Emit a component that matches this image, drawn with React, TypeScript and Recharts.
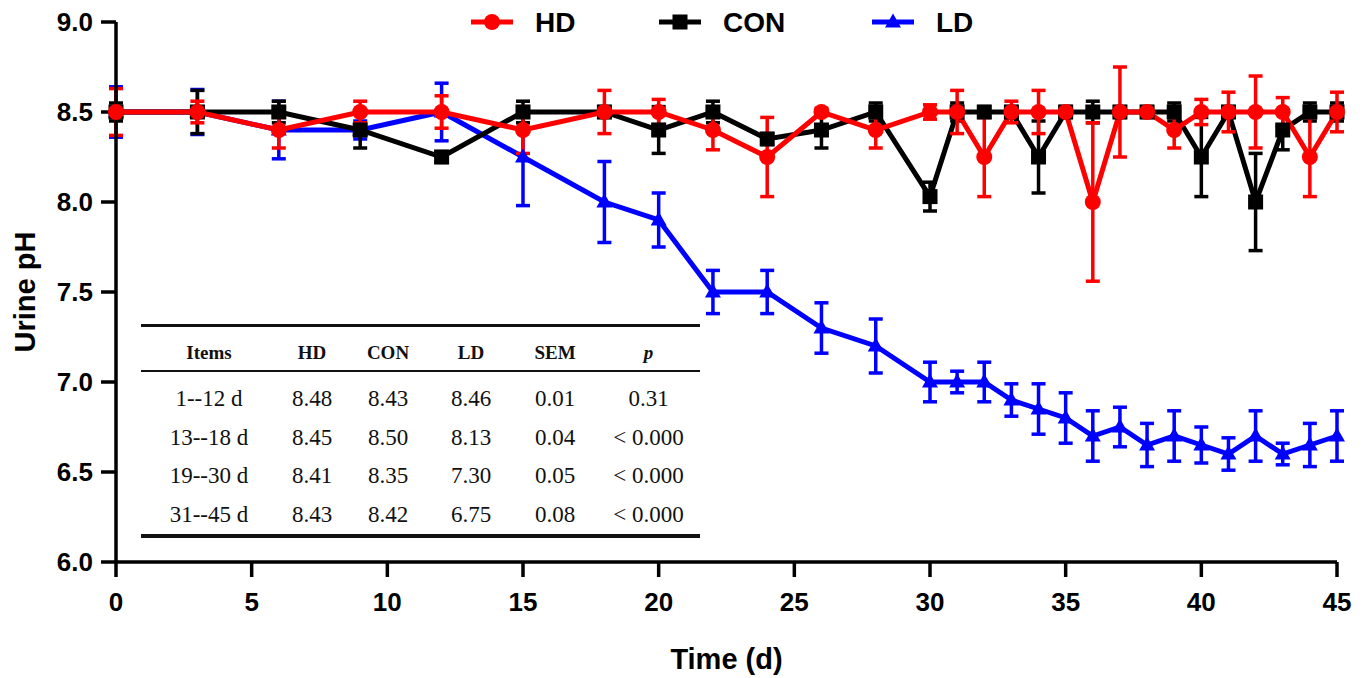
import React from "react";
import { LineChart, Line, XAxis, YAxis, ErrorBar, Legend, Label } from "recharts";

const days = [0, 3, 6, 9, 12, 15, 18, 20, 22, 24, 26, 28, 30, 31, 32, 33, 34, 35, 36, 37, 38, 39, 40, 41, 42, 43, 44, 45];

const hd = [8.5, 8.5, 8.4, 8.5, 8.5, 8.4, 8.5, 8.5, 8.4, 8.25, 8.5, 8.4, 8.5, 8.5, 8.25, 8.5, 8.5, 8.5, 8.0, 8.5, 8.5, 8.4, 8.5, 8.5, 8.5, 8.5, 8.25, 8.5];
const hdErr = [0.13, 0.06, 0.1, 0.06, 0.09, 0.13, 0.12, 0.07, 0.11, 0.22, 0.02, 0.1, 0.04, 0.12, 0.22, 0.06, 0.12, 0.03, 0.44, 0.25, 0.02, 0.1, 0.07, 0.11, 0.2, 0.08, 0.22, 0.11];

const con = [8.5, 8.5, 8.5, 8.4, 8.25, 8.5, 8.5, 8.4, 8.5, 8.35, 8.4, 8.5, 8.03, 8.5, 8.5, 8.5, 8.25, 8.5, 8.5, 8.5, 8.5, 8.5, 8.25, 8.5, 8.0, 8.4, 8.5, 8.5];
const conErr = [0.05, 0.12, 0.06, 0.1, 0.03, 0.06, 0.03, 0.13, 0.06, 0.03, 0.1, 0.05, 0.08, 0.05, 0.03, 0.03, 0.2, 0.03, 0.06, 0.03, 0.03, 0.05, 0.22, 0.03, 0.27, 0.11, 0.05, 0.05];

const ld = [8.5, 8.5, 8.4, 8.4, 8.5, 8.25, 8.0, 7.9, 7.5, 7.5, 7.3, 7.2, 7.0, 7.0, 7.0, 6.9, 6.85, 6.8, 6.7, 6.75, 6.65, 6.7, 6.65, 6.6, 6.7, 6.6, 6.65, 6.7];
const ldErr = [0.14, 0.125, 0.16, 0.05, 0.16, 0.27, 0.225, 0.15, 0.12, 0.12, 0.14, 0.15, 0.11, 0.06, 0.11, 0.09, 0.14, 0.14, 0.14, 0.11, 0.12, 0.14, 0.1, 0.09, 0.14, 0.06, 0.12, 0.14];

const xTicks = [0, 5, 10, 15, 20, 25, 30, 35, 40, 45];
const yTicks = [6.0, 6.5, 7.0, 7.5, 8.0, 8.5, 9.0];

// summary table
const tableHead = ["Items", "HD", "CON", "LD", "SEM", "p"];
const tableItems = ["1--12 d", "13--18 d", "19--30 d", "31--45 d"];
const tableHD = ["8.48", "8.45", "8.41", "8.43"];
const tableCON = ["8.43", "8.50", "8.35", "8.42"];
const tableLD = ["8.46", "8.13", "7.30", "6.75"];
const tableSEM = ["0.01", "0.04", "0.05", "0.08"];
const tableP = ["0.31", "< 0.000", "< 0.000", "< 0.000"];

const RED = "#ff0000";
const BLACK = "#000000";
const BLUE = "#0000ff";
const SANS = '"Liberation Sans", Arial, Helvetica, sans-serif';
const SERIF = '"Liberation Serif", "DejaVu Serif", serif';

const data = days.map((d, i) => ({
  day: d,
  hd: hd[i],
  hdErr: hdErr[i],
  con: con[i],
  conErr: conErr[i],
  ld: ld[i],
  ldErr: ldErr[i],
}));

const circleDot = (props: any) => {
  const { cx, cy, index } = props;
  if (cx == null || cy == null) return null;
  return <circle key={`hd-${index}`} cx={cx} cy={cy} r={8} fill={RED} />;
};

const squareDot = (props: any) => {
  const { cx, cy, index } = props;
  if (cx == null || cy == null) return null;
  return <rect key={`con-${index}`} x={cx - 7.5} y={cy - 7.5} width={15} height={15} fill={BLACK} />;
};

const triangleDot = (props: any) => {
  const { cx, cy, index } = props;
  if (cx == null || cy == null) return null;
  return (
    <path
      key={`ld-${index}`}
      d={`M${cx},${cy - 8.5} L${cx + 8},${cy + 5.5} L${cx - 8},${cy + 5.5} Z`}
      fill={BLUE}
    />
  );
};

const legendItems = [
  { name: "HD", color: RED, shape: "circle", x: 471 },
  { name: "CON", color: BLACK, shape: "square", x: 659 },
  { name: "LD", color: BLUE, shape: "triangle", x: 872 },
];

const renderLegend = () => (
  <svg width={1370} height={44}>
    {legendItems.map((it) => {
      const cy = 22;
      const mid = it.x + 21;
      return (
        <g key={it.name}>
          <line x1={it.x} y1={cy} x2={it.x + 42} y2={cy} stroke={it.color} strokeWidth={5} />
          {it.shape === "circle" && <circle cx={mid} cy={cy} r={8} fill={it.color} />}
          {it.shape === "square" && <rect x={mid - 7.5} y={cy - 7.5} width={15} height={15} fill={it.color} />}
          {it.shape === "triangle" && (
            <path d={`M${mid},${cy - 8.5} L${mid + 8},${cy + 5.5} L${mid - 8},${cy + 5.5} Z`} fill={it.color} />
          )}
          <text
            x={it.x + 64}
            y={cy}
            dominantBaseline="central"
            fontFamily={SANS}
            fontWeight={700}
            fontSize={28}
            fill="#000"
          >
            {it.name}
          </text>
        </g>
      );
    })}
  </svg>
);

const YTitle = (props: any) => {
  const { x, y, height } = props.viewBox;
  const cx = x + 25;
  const cy = y + height / 2;
  return (
    <text
      x={cx}
      y={cy}
      transform={`rotate(-90 ${cx} ${cy})`}
      textAnchor="middle"
      dominantBaseline="central"
      fontFamily={SANS}
      fontWeight={700}
      fontSize={29}
      fill="#000"
    >
      Urine pH
    </text>
  );
};

const XTitle = (props: any) => {
  const { x, y, width } = props.viewBox;
  return (
    <text
      x={x + width / 2}
      y={y + 97}
      textAnchor="middle"
      dominantBaseline="central"
      fontFamily={SANS}
      fontWeight={700}
      fontSize={29}
      fill="#000"
    >
      Time (d)
    </text>
  );
};

const colWidths = [136, 70, 82, 84, 84, 103];

const SummaryTable = () => {
  const cell = (txt: string, i: number, head: boolean) => (
    <div
      key={i}
      style={{
        width: colWidths[i],
        textAlign: "center",
        fontWeight: head ? 700 : 400,
        fontStyle: head && i === 5 ? "italic" : "normal",
        fontSize: head ? 19 : 23,
      }}
    >
      {txt}
    </div>
  );
  const rows = tableItems.map((it, r) => [it, tableHD[r], tableCON[r], tableLD[r], tableSEM[r], tableP[r]]);
  return (
    <div
      style={{
        position: "absolute",
        left: 141,
        top: 324,
        width: 559,
        fontFamily: SERIF,
        color: "#111",
      }}
    >
      <div
        style={{
          display: "flex",
          alignItems: "center",
          height: 48,
          borderTop: "3px solid #111",
          borderBottom: "2px solid #111",
          paddingTop: 8,
          boxSizing: "border-box",
        }}
      >
        {tableHead.map((h, i) => cell(h, i, true))}
      </div>
      <div style={{ height: 8 }} />
      {rows.map((row, r) => (
        <div key={r} style={{ display: "flex", alignItems: "center", height: 38.6 }}>
          {row.map((v, i) => cell(v, i, false))}
        </div>
      ))}
      <div style={{ borderTop: "4px solid #111" }} />
    </div>
  );
};

export default function App() {
  return (
    <div style={{ position: "absolute", left: 0, top: 0, width: 1370, height: 678, background: "#fff" }}>
      <LineChart width={1370} height={678} data={data} margin={{ top: 22, right: 33, bottom: 0, left: 0 }}>
        <XAxis
          dataKey="day"
          type="number"
          domain={[0, 45]}
          ticks={xTicks}
          interval={0}
          height={116}
          tickSize={15}
          tickMargin={16}
          axisLine={{ stroke: "#000", strokeWidth: 3.5 }}
          tickLine={{ stroke: "#000", strokeWidth: 3.5 }}
          tick={{ fill: "#000", fontSize: 26, fontWeight: 700, fontFamily: SANS }}
        >
          <Label content={XTitle} />
        </XAxis>
        <YAxis
          type="number"
          domain={[6, 9]}
          ticks={yTicks}
          interval={0}
          width={116}
          tickSize={15}
          tickMargin={8}
          tickFormatter={(v: number) => v.toFixed(1)}
          axisLine={{ stroke: "#000", strokeWidth: 3.5 }}
          tickLine={{ stroke: "#000", strokeWidth: 3.5 }}
          tick={{ fill: "#000", fontSize: 26, fontWeight: 700, fontFamily: SANS }}
        >
          <Label content={YTitle} />
        </YAxis>
        <Legend
          layout="vertical"
          verticalAlign="middle"
          align="center"
          wrapperStyle={{ top: 0, left: 0, width: 1370, height: 44 }}
          content={renderLegend}
        />
        <Line
          type="linear"
          dataKey="ld"
          name="LD"
          stroke={BLUE}
          strokeWidth={5}
          dot={triangleDot}
          activeDot={false}
          isAnimationActive={false}
        >
          <ErrorBar dataKey="ldErr" direction="y" width={7} strokeWidth={3.5} stroke={BLUE} isAnimationActive={false} />
        </Line>
        <Line
          type="linear"
          dataKey="con"
          name="CON"
          stroke={BLACK}
          strokeWidth={5}
          dot={squareDot}
          activeDot={false}
          isAnimationActive={false}
        >
          <ErrorBar dataKey="conErr" direction="y" width={7} strokeWidth={3.5} stroke={BLACK} isAnimationActive={false} />
        </Line>
        <Line
          type="linear"
          dataKey="hd"
          name="HD"
          stroke={RED}
          strokeWidth={5}
          dot={circleDot}
          activeDot={false}
          isAnimationActive={false}
        >
          <ErrorBar dataKey="hdErr" direction="y" width={7} strokeWidth={3.5} stroke={RED} isAnimationActive={false} />
        </Line>
      </LineChart>
      <SummaryTable />
    </div>
  );
}
